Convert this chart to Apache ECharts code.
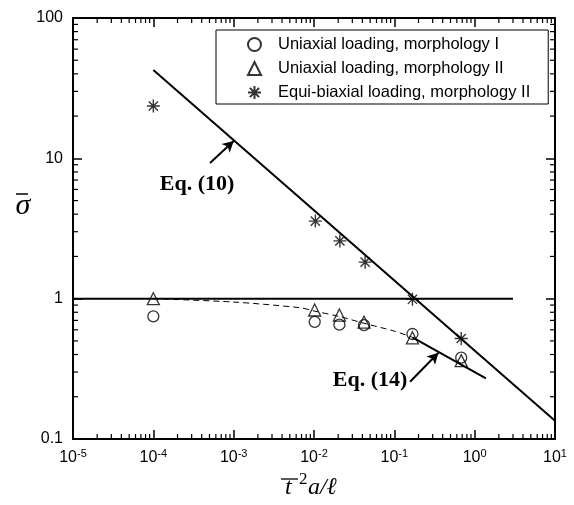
<!DOCTYPE html>
<html>
<head>
<meta charset="utf-8">
<script src="https://cdn.jsdelivr.net/npm/echarts@6/dist/echarts.min.js"></script>
<style>
  html, body { margin: 0; padding: 0; background: #fff; }
  #chart { width: 574px; height: 505px; }
</style>
</head>
<body>
<div id="chart"></div>
<script>

// measured points
const pointX = [1e-4, 0.0102, 0.0207, 0.042, 0.168, 0.68];
const morphIY = [0.748, 0.684, 0.653, 0.648, 0.56, 0.38];
const morphIIY = [1.0, 0.83, 0.764, 0.68, 0.526, 0.362];
const starX = [1e-4, 0.0104, 0.021, 0.0433, 0.168, 0.68];
const equiY = [23.6, 3.57, 2.58, 1.82, 0.99, 0.52];

// model curves
const eq10 = [[1e-4, 42.6], [10, 0.135]];
const unity = [[1e-5, 1], [3, 1]];
const fitDashed = [[1e-4, 1.0], [1e-3, 0.946], [0.0068, 0.861], [0.01, 0.817], [0.021, 0.745], [0.041, 0.67], [0.1, 0.587], [0.168, 0.53]];
const eq14 = [[0.168, 0.53], [1.38, 0.27]];

// arrows for the labels
const arrow10 = [[5.08e-4, 9.26], [1e-3, 13.3]];
const arrow14 = [[0.157, 0.256], [0.354, 0.4115]];

const legendNames = ['Uniaxial loading, morphology I', 'Uniaxial loading, morphology II', 'Equi-biaxial loading, morphology II'];

// axes
const xMin = 1e-5, xMax = 10, yMin = 0.1, yMax = 100;
const xDecades = [1e-5, 1e-4, 1e-3, 1e-2, 1e-1, 1];
const yDecades = [0.1, 1, 10];
const minorSteps = [2, 3, 4, 5, 6, 7, 8, 9];

var xMinor = [];
xDecades.forEach(d => minorSteps.forEach(m => xMinor.push([m * d, yMin])));
var yMinor = [];
yDecades.forEach(d => minorSteps.forEach(m => yMinor.push([xMin, m * d])));

const FONT = '"Liberation Sans", Arial, sans-serif';
const SERIF = '"Liberation Serif", "Times New Roman", serif';

const starPath = 'path://M0,-10L0,10M-10,0L10,0M-7.07,-7.07L7.07,7.07M-7.07,7.07L7.07,-7.07';

var myChart = echarts.init(document.getElementById('chart'));

function axisBase(pos) {
  return {
    type: 'log',
    logBase: 10,
    position: pos,
    interval: 1,
    axisLine: { show: true, lineStyle: { color: '#000', width: 2 } },
    axisTick: { show: true, inside: true, length: 9, lineStyle: { color: '#000', width: 1.5 } },
    splitLine: { show: false },
    minorTick: { show: false }
  };
}

function minorTicks(dir) {
  return function (params, api) {
    var a, b;
    if (dir == 'x') {
      a = api.coord([api.value(0), yMin]);
      b = api.coord([api.value(0), yMax]);
      return {
        type: 'group',
        children: [
          { type: 'line', shape: { x1: a[0], y1: a[1], x2: a[0], y2: a[1] - 5 }, style: { stroke: '#000', lineWidth: 1.2 } },
          { type: 'line', shape: { x1: b[0], y1: b[1], x2: b[0], y2: b[1] + 5 }, style: { stroke: '#000', lineWidth: 1.2 } }
        ]
      };
    }
    a = api.coord([xMin, api.value(1)]);
    b = api.coord([xMax, api.value(1)]);
    return {
      type: 'group',
      children: [
        { type: 'line', shape: { x1: a[0], y1: a[1], x2: a[0] + 5, y2: a[1] }, style: { stroke: '#000', lineWidth: 1.2 } },
        { type: 'line', shape: { x1: b[0], y1: b[1], x2: b[0] - 5, y2: b[1] }, style: { stroke: '#000', lineWidth: 1.2 } }
      ]
    };
  };
}

function lineSeries(data, extra) {
  return Object.assign({
    type: 'line',
    data: data,
    symbol: 'none',
    silent: true,
    lineStyle: { color: '#000', width: 2 },
    z: 3
  }, extra || {});
}

function arrowLine(pts) {
  return {
    type: 'line',
    data: [],
    silent: true,
    markLine: {
      silent: true,
      symbol: ['none', 'arrow'],
      symbolSize: [9, 11],
      label: { show: false },
      lineStyle: { color: '#000', width: 2, type: 'solid' },
      data: [[{ coord: pts[0] }, { coord: pts[1] }]]
    }
  };
}

var option = {
  animation: false,
  backgroundColor: '#fff',
  textStyle: { fontFamily: FONT },
  grid: { left: 73, top: 18, right: 19, bottom: 66 },
  legend: {
    data: legendNames,
    orient: 'vertical',
    left: 216,
    top: 30,
    padding: [6, 18, 3, 31],
    itemWidth: 13,
    itemHeight: 13,
    itemGap: 7,
    symbolKeepAspect: true,
    borderColor: '#000',
    borderWidth: 1,
    backgroundColor: '#fff',
    selectedMode: false,
    textStyle: { fontFamily: FONT, fontSize: 16.5, color: '#000', lineHeight: 16, padding: [0, 0, 0, 12] }
  },
  xAxis: [
    Object.assign(axisBase('bottom'), {
      min: xMin, max: xMax,
      axisLabel: {
        margin: 9,
        color: '#000',
        formatter: function (v) {
          var e = Math.round(Math.log10(v));
          return '{b|10}{s|' + e + '}';
        },
        rich: {
          b: { fontSize: 16, fontFamily: FONT, color: '#000' },
          s: { fontSize: 11, fontFamily: FONT, color: '#000', padding: [0, 0, 9, 0] }
        }
      }
    }),
    Object.assign(axisBase('top'), { min: xMin, max: xMax, axisLabel: { show: false } })
  ],
  yAxis: [
    Object.assign(axisBase('left'), {
      min: yMin, max: yMax,
      axisLabel: {
        margin: 10, color: '#000', fontSize: 16, fontFamily: FONT,
        formatter: function (v) { return v >= 1 ? String(Math.round(v)) : String(Math.round(v * 10) / 10); }
      }
    }),
    Object.assign(axisBase('right'), { min: yMin, max: yMax, axisLabel: { show: false } })
  ],
  graphic: [
    { type: 'text', x: 23, y: 206, style: { text: '\u03C3', font: 'italic 30px ' + SERIF, fill: '#000', textAlign: 'center', textVerticalAlign: 'middle' } },
    { type: 'line', shape: { x1: 16, y1: 194, x2: 28, y2: 194 }, style: { stroke: '#000', lineWidth: 1.5 } },
    { type: 'text', x: 285, y: 488, style: { text: 't', font: 'italic 24px ' + SERIF, fill: '#000', textAlign: 'left', textVerticalAlign: 'middle' } },
    { type: 'line', shape: { x1: 281, y1: 479, x2: 298, y2: 479 }, style: { stroke: '#000', lineWidth: 1.3 } },
    { type: 'text', x: 299, y: 480, style: { text: '2', font: '17px ' + SERIF, fill: '#000', textAlign: 'left', textVerticalAlign: 'middle' } },
    { type: 'text', x: 308, y: 488, style: { text: 'a/\u2113', font: 'italic 24px ' + SERIF, fill: '#000', textAlign: 'left', textVerticalAlign: 'middle' } },
    { type: 'text', x: 197, y: 184, style: { text: 'Eq. (10)', font: 'bold 22px ' + SERIF, fill: '#000', textAlign: 'center', textVerticalAlign: 'middle' } },
    { type: 'text', x: 370, y: 380, style: { text: 'Eq. (14)', font: 'bold 22px ' + SERIF, fill: '#000', textAlign: 'center', textVerticalAlign: 'middle' } }
  ],
  series: [
    {
      name: legendNames[0],
      type: 'scatter',
      data: pointX.map((x, i) => [x, morphIY[i]]),
      symbol: 'circle',
      symbolSize: 11,
      symbolKeepAspect: true,
      itemStyle: { color: 'rgba(0,0,0,0)', borderColor: '#000', borderWidth: 1.3 },
      z: 4
    },
    {
      name: legendNames[1],
      type: 'scatter',
      data: pointX.map((x, i) => [x, morphIIY[i]]),
      symbol: 'triangle',
      symbolSize: 12,
      symbolKeepAspect: true,
      itemStyle: { color: 'rgba(0,0,0,0)', borderColor: '#000', borderWidth: 1.3 },
      z: 4
    },
    {
      name: legendNames[2],
      type: 'scatter',
      data: starX.map((x, i) => [x, equiY[i]]),
      symbol: starPath,
      symbolKeepAspect: true,
      symbolSize: 13,
      itemStyle: { color: 'rgba(0,0,0,0)', borderColor: '#000', borderWidth: 1.4 },
      z: 4
    },
    lineSeries(eq10),
    lineSeries(unity),
    lineSeries(fitDashed, { smooth: 0.3, lineStyle: { color: '#000', width: 1, type: [6, 4] } }),
    lineSeries(eq14),
    arrowLine(arrow10),
    arrowLine(arrow14),
    { type: 'custom', data: xMinor, renderItem: minorTicks('x'), silent: true, clip: false, z: 5 },
    { type: 'custom', data: yMinor, renderItem: minorTicks('y'), silent: true, clip: false, z: 5 }
  ]
};

option && myChart.setOption(option);

</script>
</body>
</html>
